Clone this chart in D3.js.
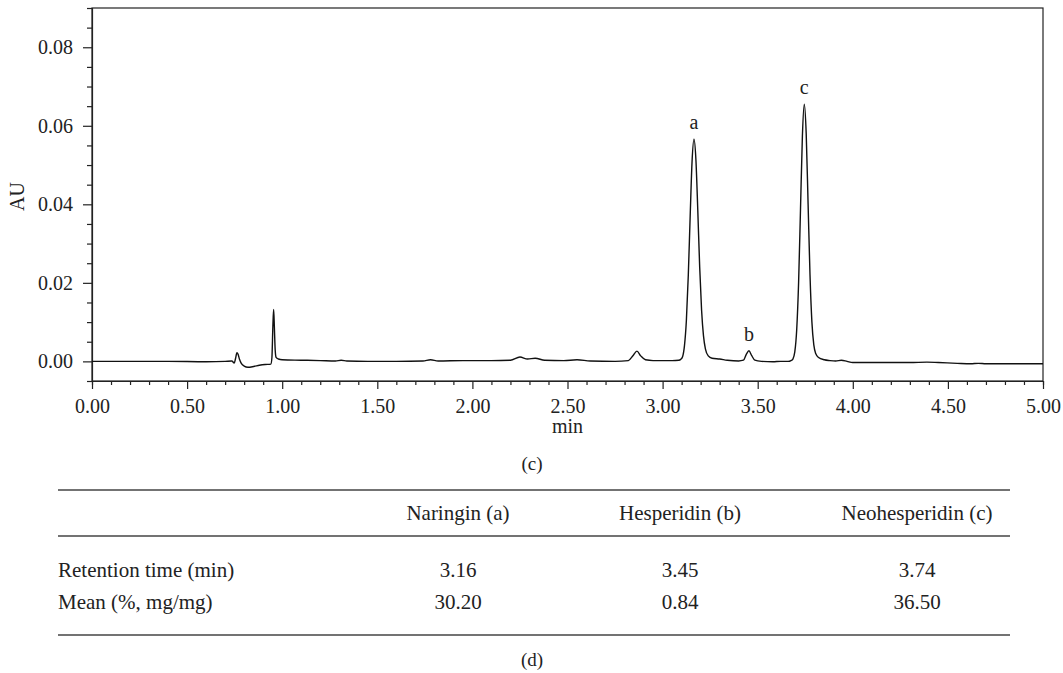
<!DOCTYPE html>
<html>
<head>
<meta charset="utf-8">
<script src="https://cdn.jsdelivr.net/npm/d3@7"></script>
<style>
  body { margin: 0; background: #fff; }
  svg { display: block; font-family: "Liberation Serif", "DejaVu Serif", serif; }
  svg text { font-family: "Liberation Serif", "DejaVu Serif", serif; }
</style>
</head>
<body>
<div id="container"></div>
<script>
/* CONSTANTS AND GLOBALS */
const width = 1063,
  height = 673,
  margin = { top: 8, bottom: 294, left: 92, right: 20 };

// chromatogram trace (min, AU)
const time = [
  0.00, 0.20, 0.40, 0.60, 0.70, 0.735, 0.748, 0.755, 0.762, 0.768, 0.775, 0.785,
  0.80, 0.82, 0.85, 0.88, 0.91, 0.940, 0.946, 0.951, 0.955, 0.959, 0.963, 0.968,
  0.98, 1.00, 1.10, 1.20, 1.28, 1.31, 1.34, 1.45, 1.60, 1.74, 1.78, 1.82, 1.95,
  2.10, 2.20, 2.25, 2.29, 2.33, 2.38, 2.48, 2.55, 2.62, 2.75, 2.82, 2.845, 2.865,
  2.885, 2.91, 2.95, 3.05, 3.085, 3.095, 3.105, 3.115, 3.125, 3.135, 3.145, 3.155,
  3.165, 3.175, 3.185, 3.195, 3.205, 3.215, 3.225, 3.24, 3.26, 3.30, 3.34, 3.40,
  3.425, 3.440, 3.454, 3.468, 3.485, 3.52, 3.58, 3.62, 3.66, 3.675, 3.685, 3.695,
  3.705, 3.715, 3.725, 3.735, 3.745, 3.755, 3.765, 3.775, 3.785, 3.795, 3.805,
  3.82, 3.85, 3.88, 3.91, 3.94, 3.97, 4.00, 4.10, 4.20, 4.30, 4.39, 4.45, 4.55,
  4.62, 4.66, 4.70, 4.80, 4.90, 5.00
];
const absorbance = [
  0.0000, 0.0000, 0.0000, -0.0001, 0.0000, 0.0001, -0.0004, 0.0008, 0.0022, 0.0018, 0.0006, -0.0005,
  -0.0012, -0.0015, -0.0013, -0.0010, -0.0008, -0.0007, 0.0010, 0.0090, 0.0132, 0.0085, 0.0030, 0.0010,
  0.0006, 0.0004, 0.0003, 0.0002, 0.0001, 0.0003, 0.0001, 0.0000, 0.0000, 0.0001, 0.0004, 0.0001, 0.0002,
  0.0002, 0.0003, 0.0011, 0.0006, 0.0008, 0.0003, 0.0002, 0.0004, 0.0001, 0.0000, 0.0002, 0.0015, 0.0026,
  0.0014, 0.0004, 0.0002, 0.0002, 0.0003, 0.0005, 0.0012, 0.0040, 0.0104, 0.0218, 0.0370, 0.0510,
  0.0566, 0.0515, 0.0385, 0.0240, 0.0130, 0.0065, 0.0032, 0.0014, 0.0008, 0.0006, 0.0003, 0.0001,
  0.0003, 0.0018, 0.0027, 0.0015, 0.0003, 0.0000, -0.0001, 0.0000, 0.0000, 0.0002, 0.0006, 0.0024,
  0.0080, 0.0200, 0.0387, 0.0574, 0.0655, 0.0580, 0.0400, 0.0220, 0.0100, 0.0042, 0.0020,
  0.0010, 0.0004, 0.0002, 0.0001, 0.0003, 0.0000, -0.0003, -0.0003, -0.0003, -0.0003, -0.0002, -0.0003, -0.0005,
  -0.0006, -0.0005, -0.0006, -0.0006, -0.0006, -0.0006
];

// labelled peaks
const peakNames = ["a", "b", "c"];
const peakTimes = [3.165, 3.454, 3.745];
const peakHeights = [0.0566, 0.0027, 0.0655];

// axis ticks
const xMajorTicks = [0, 0.5, 1, 1.5, 2, 2.5, 3, 3.5, 4, 4.5, 5];
const yMajorTicks = [0, 0.02, 0.04, 0.06, 0.08];

// table
const compounds = ["Naringin (a)", "Hesperidin (b)", "Neohesperidin (c)"];
const rowLabels = ["Retention time (min)", "Mean (%, mg/mg)"];
const retentionTimes = ["3.16", "3.45", "3.74"];
const means = ["30.20", "0.84", "36.50"];

const serif = "'Liberation Serif', 'DejaVu Serif', serif";

/* SCALES */
const xScale = d3.scaleLinear()
  .domain([0, 5])
  .range([margin.left, 1043]);

const yScale = d3.scaleLinear()
  .domain([-0.005, 0.09])
  .range([height - margin.bottom + 2, margin.top]);

const svg = d3.select("#container")
  .append("svg")
  .attr("width", width)
  .attr("height", height);

const plotBottom = yScale(-0.005);

// frame
svg.append("rect")
  .attr("x", xScale(0))
  .attr("y", yScale(0.09))
  .attr("width", xScale(5) - xScale(0))
  .attr("height", plotBottom - yScale(0.09))
  .attr("fill", "none")
  .attr("stroke", "#222")
  .attr("stroke-width", 1.2);

/* AXES */
const xMinor = d3.range(0, 51).map(d => d / 10);
const yMinor = d3.range(-1, 19).map(d => d * 0.005);

const isMajorX = d => xMajorTicks.some(m => Math.abs(m - d) < 1e-6);
const isMajorY = d => yMajorTicks.some(m => Math.abs(m - d) < 1e-6);

const xAxisG = svg.append("g")
  .attr("transform", `translate(0,${plotBottom})`)
  .call(d3.axisBottom(xScale)
    .tickValues(xMinor)
    .tickSize(4)
    .tickPadding(14)
    .tickFormat(d => isMajorX(d) ? d3.format(".2f")(d) : ""));

xAxisG.selectAll(".tick line")
  .attr("y2", d => isMajorX(d) ? 8 : 4);

const yAxisG = svg.append("g")
  .attr("transform", `translate(${xScale(0)},0)`)
  .call(d3.axisLeft(yScale)
    .tickValues(yMinor)
    .tickSize(5)
    .tickPadding(14)
    .tickFormat(d => isMajorY(d) ? d3.format(".2f")(Math.abs(d) < 1e-9 ? 0 : d) : ""));

yAxisG.selectAll(".tick line")
  .attr("x2", d => isMajorY(d) ? -9 : -5);

svg.selectAll("g").attr("font-family", serif);
svg.selectAll(".domain").attr("stroke", "#222").attr("stroke-width", 1.2);
svg.selectAll(".tick line").attr("stroke", "#222").attr("stroke-width", 1.2);
svg.selectAll(".tick text")
  .attr("font-family", serif)
  .attr("font-size", 20)
  .attr("fill", "#222");

// axis titles
svg.append("text")
  .attr("x", (xScale(0) + xScale(5)) / 2)
  .attr("y", 433)
  .attr("text-anchor", "middle")
  .attr("font-size", 20)
  .attr("fill", "#222")
  .text("min");

svg.append("text")
  .attr("transform", `translate(24,${yScale(0.042)}) rotate(-90)`)
  .attr("text-anchor", "middle")
  .attr("font-size", 20)
  .attr("fill", "#222")
  .text("AU");

/* TRACE */
const trace = time.map((t, i) => ({ t: t, v: absorbance[i] }));

const line = d3.line()
  .x(d => xScale(d.t))
  .y(d => yScale(d.v))
  .curve(d3.curveMonotoneX);

svg.append("path")
  .datum(trace)
  .attr("fill", "none")
  .attr("stroke", "#111")
  .attr("stroke-width", 1.4)
  .attr("stroke-linejoin", "round")
  .attr("d", line);

// peak letters
svg.selectAll(".peak-label")
  .data(peakNames)
  .join("text")
  .attr("class", "peak-label")
  .attr("x", (d, i) => xScale(peakTimes[i]))
  .attr("y", (d, i) => yScale(peakHeights[i]) - 10)
  .attr("text-anchor", "middle")
  .attr("font-size", 20)
  .attr("fill", "#222")
  .text(d => d);

// caption (c)
svg.append("text")
  .attr("x", 532)
  .attr("y", 470)
  .attr("text-anchor", "middle")
  .attr("font-size", 19)
  .attr("fill", "#222")
  .text("(c)");

/* TABLE */
const tableLeft = 58, tableRight = 1010;
const colCenters = [458, 680, 917];

[490, 536, 635].forEach(y => {
  svg.append("line")
    .attr("x1", tableLeft)
    .attr("x2", tableRight)
    .attr("y1", y)
    .attr("y2", y)
    .attr("stroke", "#444")
    .attr("stroke-width", 1.6);
});

const tableFont = 21;

svg.selectAll(".col-head")
  .data(compounds)
  .join("text")
  .attr("class", "col-head")
  .attr("x", (d, i) => colCenters[i])
  .attr("y", 520)
  .attr("text-anchor", "middle")
  .attr("font-size", tableFont)
  .attr("fill", "#222")
  .text(d => d);

svg.selectAll(".row-label")
  .data(rowLabels)
  .join("text")
  .attr("class", "row-label")
  .attr("x", tableLeft)
  .attr("y", (d, i) => i === 0 ? 577 : 609)
  .attr("font-size", tableFont)
  .attr("fill", "#222")
  .text(d => d);

svg.selectAll(".rt-cell")
  .data(retentionTimes)
  .join("text")
  .attr("class", "rt-cell")
  .attr("x", (d, i) => colCenters[i])
  .attr("y", 577)
  .attr("text-anchor", "middle")
  .attr("font-size", tableFont)
  .attr("fill", "#222")
  .text(d => d);

svg.selectAll(".mean-cell")
  .data(means)
  .join("text")
  .attr("class", "mean-cell")
  .attr("x", (d, i) => colCenters[i])
  .attr("y", 609)
  .attr("text-anchor", "middle")
  .attr("font-size", tableFont)
  .attr("fill", "#222")
  .text(d => d);

// caption (d)
svg.append("text")
  .attr("x", 532)
  .attr("y", 666)
  .attr("text-anchor", "middle")
  .attr("font-size", 19)
  .attr("fill", "#222")
  .text("(d)");
</script>
</body>
</html>
